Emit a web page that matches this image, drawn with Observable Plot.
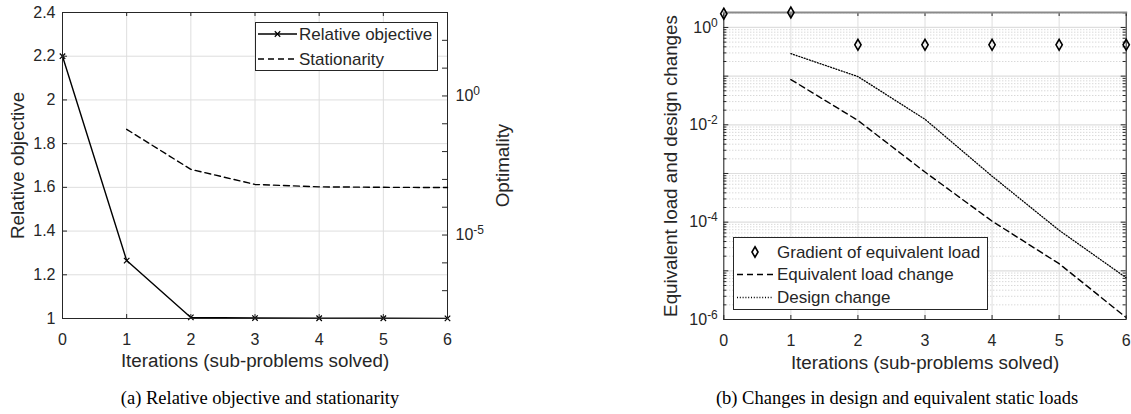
<!DOCTYPE html>
<html>
<head>
<meta charset="utf-8">
<script src="https://cdn.jsdelivr.net/npm/d3@7"></script>
<script src="https://cdn.jsdelivr.net/npm/@observablehq/plot@0.6"></script>
<style>
  html, body { margin: 0; padding: 0; background: #fff; }
  #wrap { position: relative; width: 1131px; height: 414px; overflow: hidden; background: #fff; }
  .layer { position: absolute; }
  .caption { position: absolute; font-family: "Liberation Serif", "Times New Roman", serif; font-size: 18.5px; line-height: 1; color: #000; white-space: nowrap; transform: translateX(-50%); }
</style>
</head>
<body>
<div id="wrap"></div>
<script>
// ---------------- DATA ----------------
const iterations = [0, 1, 2, 3, 4, 5, 6];
const relativeObjective = [2.2, 1.265, 1.005, 1.002, 1.001, 1.001, 1.0005];
const stationarityIters = [1, 2, 3, 4, 5, 6];
const stationarity = [0.063, 0.0023, 6.6e-4, 5.4e-4, 5.2e-4, 5.1e-4];
const relObjTicks = [1, 1.2, 1.4, 1.6, 1.8, 2, 2.2, 2.4];
const optimalityDecades = [-8, -7, -6, -5, -4, -3, -2, -1, 0, 1, 2, 3];
const optimalityLabelDecades = [0, -5];

const gradientEqLoad = [1.92, 2.03, 0.44, 0.44, 0.44, 0.44, 0.44];
const changeIters = [1, 2, 3, 4, 5, 6];
const eqLoadChange = [0.085, 0.0123, 1.07e-3, 1.05e-4, 1.4e-5, 1.1e-6];
const designChange = [0.29, 0.098, 0.013, 8.8e-4, 6.8e-5, 7.2e-6];
const changeDecades = [-6, -5, -4, -3, -2, -1, 0];
const changeLabelDecades = [0, -2, -4, -6];

const xLabel = "Iterations (sub-problems solved)";
const captionA = "(a) Relative objective and stationarity";
const captionB = "(b) Changes in design and equivalent static loads";

// ---------------- STYLE ----------------
const FONT = "'Liberation Sans', Arial, Helvetica, sans-serif";
const AX = "#262626";
const GRID = "#dedede";
const MINOR = "#c8c8c8";
const DASH = "6,4";
const DOT = "1,1.8";
const TICK_FS = 16, LABEL_FS = 18.8, LEG_FS = 17;

const wrap = document.getElementById("wrap");

function superscriptify(svg) {
  d3.select(svg).selectAll("text").each(function () {
    const t = this.textContent;
    const m = /^10\^(-?\d+)$/.exec(t);
    if (!m) return;
    const sel = d3.select(this);
    sel.text("10");
    sel.append("tspan").attr("dy", "-0.5em").attr("font-size", "0.75em").text(m[1]);
  });
}
function place(el, left, top) {
  el.classList.add("layer");
  el.style.left = left + "px";
  el.style.top = top + "px";
  wrap.appendChild(el);
}

const xTicks = iterations;
const baseStyle = { fontFamily: FONT, fontSize: TICK_FS + "px", overflow: "visible", background: "transparent", color: "#262626" };

// ---------------- PANEL (a) ----------------
const W1 = 560, H1 = 380, mL1 = 62, mR1 = 113, mT1 = 12, mB1 = 62;
const pw1 = W1 - mL1 - mR1, ph1 = H1 - mT1 - mB1;
const relData = iterations.map((it, i) => ({ iter: it, value: relativeObjective[i] }));
const statData = stationarityIters.map((it, i) => ({ iter: it, value: stationarity[i] }));

const panelA = Plot.plot({
  width: W1, height: H1, marginLeft: mL1, marginRight: mR1, marginTop: mT1, marginBottom: mB1,
  style: baseStyle,
  x: { domain: [0, 6] },
  y: { domain: [1, 2.4] },
  marks: [
    Plot.ruleX(xTicks, { x: d => d, stroke: GRID, strokeWidth: 1 }),
    Plot.ruleY(relObjTicks, { y: d => d, stroke: GRID, strokeWidth: 1 }),
    Plot.line(relData, { x: "iter", y: "value", stroke: "black", strokeWidth: 1.4 }),
    Plot.dot(relData, { x: "iter", y: "value", symbol: "times", r: 2.6, stroke: "black", strokeWidth: 1.2 }),
    Plot.tickY(relObjTicks, { y: d => d, insetRight: pw1 - 5, stroke: AX }),
    Plot.tickX(xTicks, { x: d => d, insetTop: ph1 - 4, stroke: AX }),
    Plot.tickX(xTicks, { x: d => d, insetBottom: ph1 - 4, stroke: AX }),
    Plot.frame({ stroke: AX, strokeWidth: 1 }),
    Plot.axisX(xTicks, { tickSize: 0, tickPadding: 15, label: null, tickFormat: d => String(d), fontSize: TICK_FS, fill: AX }),
    Plot.axisY(relObjTicks, { tickSize: 0, tickPadding: 7, label: null, tickFormat: d => String(d), fontSize: TICK_FS, fill: AX }),
    Plot.text([xLabel], { frameAnchor: "bottom", dy: 48, fontSize: LABEL_FS, fill: AX }),
    Plot.text(["Relative objective"], { frameAnchor: "left", textAnchor: "middle", dx: -45, rotate: -90, fontSize: LABEL_FS, fill: AX })
  ]
});
place(panelA, 0, 0);

const panelAopt = Plot.plot({
  width: W1, height: H1, marginLeft: mL1, marginRight: mR1, marginTop: mT1, marginBottom: mB1,
  style: baseStyle,
  x: { domain: [0, 6], axis: null },
  y: { type: "log", domain: [1e-8, 1e3] },
  marks: [
    Plot.line(statData, { x: "iter", y: "value", stroke: "black", strokeWidth: 1.4, strokeDasharray: DASH }),
    Plot.tickY(optimalityDecades.map(k => Math.pow(10, k)), { y: d => d, insetLeft: pw1 - 5, stroke: AX }),
    Plot.axisY(optimalityLabelDecades.map(k => Math.pow(10, k)), {
      anchor: "right", tickSize: 0, tickPadding: 8, label: null, fontSize: TICK_FS, fill: AX,
      tickFormat: d => "10^" + Math.round(Math.log10(d))
    }),
    Plot.text(["Optimality"], { frameAnchor: "right", textAnchor: "middle", dx: 55, rotate: -90, fontSize: LABEL_FS, fill: AX })
  ]
});
superscriptify(panelAopt);
place(panelAopt, 0, 0);

// ---------------- PANEL (b) ----------------
const W2 = 571, H2 = 380, mL2 = 163.3, mR2 = 5.3, mT2 = 12, mB2 = 61;
const pw2 = W2 - mL2 - mR2, ph2 = H2 - mT2 - mB2;
const gradData = iterations.map((it, i) => ({ iter: it, value: gradientEqLoad[i] }));
const eqData = changeIters.map((it, i) => ({ iter: it, value: eqLoadChange[i] }));
const desData = changeIters.map((it, i) => ({ iter: it, value: designChange[i] }));
const majorVals = changeDecades.map(k => Math.pow(10, k));
const minorVals = [];
changeDecades.forEach(k => { for (let m = 2; m <= 9; m++) { const v = m * Math.pow(10, k); if (v <= 2.03) minorVals.push(v); } });

const panelB = Plot.plot({
  width: W2, height: H2, marginLeft: mL2, marginRight: mR2, marginTop: mT2, marginBottom: mB2,
  style: baseStyle,
  x: { domain: [0, 6] },
  y: { type: "log", domain: [1e-6, 2.03] },
  marks: [
    Plot.ruleY(minorVals, { y: d => d, stroke: MINOR, strokeWidth: 1, strokeDasharray: "1,2" }),
    Plot.ruleY(majorVals, { y: d => d, stroke: GRID, strokeWidth: 1.2 }),
    Plot.ruleX(xTicks, { x: d => d, stroke: GRID, strokeWidth: 1 }),
    Plot.line(eqData, { x: "iter", y: "value", stroke: "black", strokeWidth: 1.4, strokeDasharray: DASH }),
    Plot.line(desData, { x: "iter", y: "value", stroke: "black", strokeWidth: 1.3, strokeDasharray: DOT }),
    Plot.tickY(majorVals, { y: d => d, insetRight: pw2 - 5, stroke: AX }),
    Plot.tickY(minorVals, { y: d => d, insetRight: pw2 - 3, stroke: AX }),
    Plot.tickY(majorVals, { y: d => d, insetLeft: pw2 - 5, stroke: AX }),
    Plot.tickY(minorVals, { y: d => d, insetLeft: pw2 - 3, stroke: AX }),
    Plot.tickX(xTicks, { x: d => d, insetTop: ph2 - 4, stroke: AX }),
    Plot.tickX(xTicks, { x: d => d, insetBottom: ph2 - 4, stroke: AX }),
    Plot.frame({ stroke: AX, strokeWidth: 1 }),
    Plot.frame({ anchor: "top", stroke: "#8a8a8a", strokeWidth: 2 }),
    Plot.dot(gradData, { x: "iter", y: "value", symbol: "diamond", r: 3.3, stroke: "black", strokeWidth: 1.6, fill: "none" }),
    Plot.axisX(xTicks, { tickSize: 0, tickPadding: 15, label: null, tickFormat: d => String(d), fontSize: TICK_FS, fill: AX }),
    Plot.axisY(changeLabelDecades.map(k => Math.pow(10, k)), {
      tickSize: 0, tickPadding: 6, label: null, fontSize: TICK_FS, fill: AX,
      tickFormat: d => "10^" + Math.round(Math.log10(d))
    }),
    Plot.text([xLabel], { frameAnchor: "bottom", dy: 49, fontSize: LABEL_FS, fill: AX }),
    Plot.text(["Equivalent load and design changes"], { frameAnchor: "left", textAnchor: "middle", dx: -53, rotate: -90, fontSize: LABEL_FS, fill: AX })
  ]
});
superscriptify(panelB);
place(panelB, 560, 0);

// ---------------- LEGENDS ----------------
function legend(w, h, rows) {
  const svg = d3.create("svg").attr("width", w).attr("height", h).style("overflow", "visible");
  svg.append("rect").attr("x", 0.5).attr("y", 0.5).attr("width", w - 1).attr("height", h - 1)
    .attr("fill", "white").attr("stroke", AX).attr("stroke-width", 1);
  rows.forEach(r => {
    const g = svg.append("g").attr("transform", `translate(0,${r.y})`);
    if (r.dash !== undefined) {
      g.append("line").attr("x1", r.x1).attr("x2", r.x2).attr("y1", 0).attr("y2", 0)
        .attr("stroke", "black").attr("stroke-width", r.sw || 1.4).attr("stroke-dasharray", r.dash || null);
    }
    if (r.symbol) {
      g.append("path").attr("d", d3.symbol(r.symbol, r.size)()).attr("transform", `translate(${r.mx},0)`)
        .attr("fill", "none").attr("stroke", "black").attr("stroke-width", r.msw || 1.2);
    }
    g.append("text").attr("x", r.tx).attr("y", 0).attr("dy", "0.35em")
      .attr("font-family", FONT).attr("font-size", LEG_FS).attr("fill", AX).text(r.label);
  });
  return svg.node();
}
const legA = legend(183, 49, [
  { y: 12, x1: 3, x2: 42, dash: "", symbol: d3.symbolTimes, size: 21, mx: 22.5, tx: 44, label: "Relative objective" },
  { y: 37, x1: 3, x2: 42, dash: DASH, tx: 44, label: "Stationarity" }
]);
place(legA, 255, 21.5);

const legB = legend(255, 73, [
  { y: 15, symbol: d3.symbolDiamond, size: 32, mx: 22, msw: 1.6, tx: 44, label: "Gradient of equivalent load" },
  { y: 37.5, x1: 4, x2: 40, dash: DASH, tx: 44, label: "Equivalent load change" },
  { y: 60.5, x1: 4, x2: 40, dash: DOT, sw: 1.3, tx: 44, label: "Design change" }
]);
place(legB, 732.5, 236.5);

// ---------------- CAPTIONS ----------------
function caption(text, cx, top) {
  const d = document.createElement("div");
  d.className = "caption";
  d.textContent = text;
  d.style.left = cx + "px";
  d.style.top = top + "px";
  wrap.appendChild(d);
}
caption(captionA, 260, 389);
caption(captionB, 897, 389);
</script>
</body>
</html>
